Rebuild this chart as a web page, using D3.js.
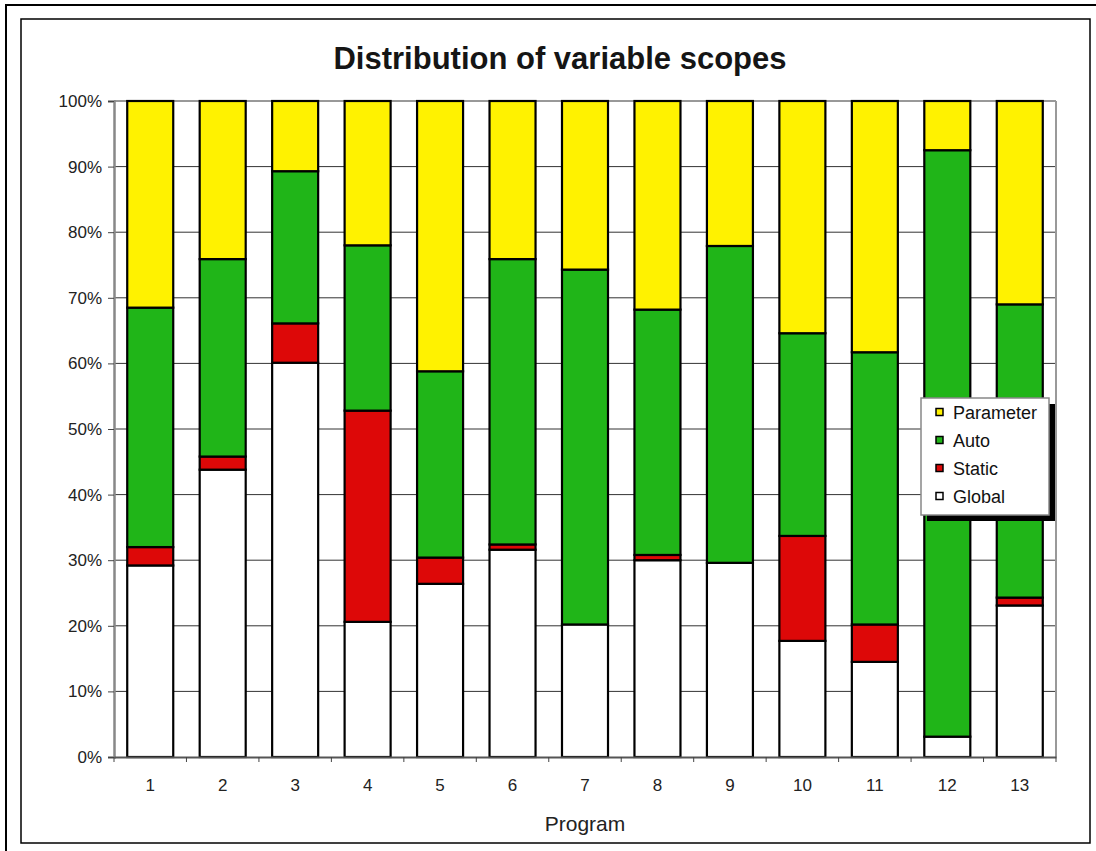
<!DOCTYPE html>
<html>
<head>
<meta charset="utf-8">
<script src="https://cdn.jsdelivr.net/npm/d3@7"></script>
<style>
  html, body { margin: 0; padding: 0; background: #fff; }
  svg { display: block; font-family: "Liberation Sans", Arial, sans-serif; }
</style>
</head>
<body>
<svg id="chart" width="1096" height="851"></svg>
<script>
// Programs on the x axis
const programs = ["1","2","3","4","5","6","7","8","9","10","11","12","13"];
// Share of variables per scope, in percent (stacked bottom to top: Global, Static, Auto, Parameter)
const globalShare    = [29.2, 43.8, 60.1, 20.6, 26.4, 31.6, 20.2, 30.0, 29.6, 17.7, 14.5,  3.1, 23.1];
const staticShare    = [ 2.8,  2.0,  6.0, 32.2,  4.0,  0.8,  0.0,  0.8,  0.0, 16.0,  5.7,  0.0,  1.2];
const autoShare      = [36.5, 30.1, 23.2, 25.2, 28.4, 43.5, 54.1, 37.4, 48.3, 30.9, 41.5, 89.4, 44.7];
const parameterShare = [31.5, 24.1, 10.7, 22.0, 41.2, 24.1, 25.7, 31.8, 22.1, 35.4, 38.3,  7.5, 31.0];
const seriesNames = ["Global", "Static", "Auto", "Parameter"];
const yTicks = [0, 0.1, 0.2, 0.3, 0.4, 0.5, 0.6, 0.7, 0.8, 0.9, 1.0];

const colors = {
  Global: "#ffffff",
  Static: "#dd0808",
  Auto: "#20b518",
  Parameter: "#fff200"
};

const svg = d3.select("#chart");

// Frames around the chart
svg.append("line").attr("x1", 5).attr("x2", 1096).attr("y1", 5).attr("y2", 5)
  .attr("stroke", "#000").attr("stroke-width", 2);
svg.append("line").attr("x1", 6).attr("x2", 6).attr("y1", 5).attr("y2", 851)
  .attr("stroke", "#000").attr("stroke-width", 2);
svg.append("rect").attr("x", 21).attr("y", 19).attr("width", 1069).attr("height", 824)
  .attr("fill", "none").attr("stroke", "#000").attr("stroke-width", 1.5);

// Title
svg.append("text")
  .attr("x", 560).attr("y", 69)
  .attr("text-anchor", "middle")
  .attr("font-size", 31).attr("font-weight", "bold").attr("fill", "#151515")
  .text("Distribution of variable scopes");

const plot = { left: 114, right: 1056, top: 101, bottom: 757 };

const x = d3.scaleBand()
  .domain(programs)
  .range([plot.left, plot.right])
  .paddingInner(0.365)
  .paddingOuter(0.1825);

const y = d3.scaleLinear().domain([0, 1]).range([plot.bottom, plot.top]);

// Gridlines
svg.append("g").selectAll("line").data(yTicks.slice(1)).join("line")
  .attr("x1", plot.left).attr("x2", plot.right)
  .attr("y1", d => y(d)).attr("y2", d => y(d))
  .attr("stroke", "#333").attr("stroke-width", 1);

// Right edge of the plot area
svg.append("line").attr("x1", plot.right).attr("x2", plot.right)
  .attr("y1", plot.top).attr("y2", plot.bottom)
  .attr("stroke", "#999").attr("stroke-width", 2);

// Stacked bars
const rows = programs.map((p, i) => ({
  program: p,
  Global: globalShare[i] / 100,
  Static: staticShare[i] / 100,
  Auto: autoShare[i] / 100,
  Parameter: parameterShare[i] / 100
}));
const stack = d3.stack().keys(seriesNames).offset(d3.stackOffsetExpand);
const layers = stack(rows);

svg.append("g").selectAll("g").data(layers).join("g")
  .attr("fill", d => colors[d.key])
  .selectAll("rect").data(d => d).join("rect")
  .attr("x", d => x(d.data.program))
  .attr("width", x.bandwidth())
  .attr("y", d => y(d[1]))
  .attr("height", d => y(d[0]) - y(d[1]))
  .attr("stroke", "#000").attr("stroke-width", 2.2);

// Y axis
const yAxis = svg.append("g")
  .attr("transform", `translate(${plot.left},0)`)
  .call(d3.axisLeft(y).tickValues(yTicks).tickFormat(d3.format(".0%")).tickSize(6).tickPadding(6));
yAxis.select(".domain").attr("stroke", "#888").attr("stroke-width", 2.5);
yAxis.selectAll(".tick line").attr("stroke", "#444");
yAxis.selectAll(".tick text").attr("font-size", 17).attr("fill", "#222")
  .attr("font-family", "Liberation Sans, Arial, sans-serif");

// X axis with ticks at category boundaries
const xAxis = svg.append("g")
  .attr("transform", `translate(0,${plot.bottom})`)
  .call(d3.axisBottom(x).tickSize(0).tickPadding(22));
xAxis.select(".domain").attr("stroke", "#555").attr("stroke-width", 2);
xAxis.selectAll(".tick text").attr("font-size", 17).attr("fill", "#222")
  .attr("font-family", "Liberation Sans, Arial, sans-serif");
const boundaries = programs.map(p => x(p) - x.step() * x.paddingInner() / 2)
  .concat([plot.right]);
xAxis.append("g").selectAll("line").data(boundaries).join("line")
  .attr("x1", d => d).attr("x2", d => d)
  .attr("y1", 0).attr("y2", 5)
  .attr("stroke", "#444").attr("stroke-width", 1);

// X axis title
svg.append("text")
  .attr("x", (plot.left + plot.right) / 2).attr("y", 831)
  .attr("text-anchor", "middle")
  .attr("font-size", 21).attr("fill", "#222")
  .text("Program");

// Legend with drop shadow
const legend = svg.append("g").attr("transform", "translate(921,398)");
legend.append("rect").attr("x", 6).attr("y", 6).attr("width", 128).attr("height", 117)
  .attr("fill", "#000");
legend.append("rect").attr("x", 0).attr("y", 0).attr("width", 128).attr("height", 117)
  .attr("fill", "#fff").attr("stroke", "#888").attr("stroke-width", 1.5);
const legendOrder = ["Parameter", "Auto", "Static", "Global"];
const items = legend.selectAll("g.item").data(legendOrder).join("g")
  .attr("class", "item")
  .attr("transform", (d, i) => `translate(0,${14 + i * 28})`);
items.append("rect")
  .attr("x", 15).attr("y", -3.5).attr("width", 7).attr("height", 7)
  .attr("fill", d => colors[d]).attr("stroke", "#000").attr("stroke-width", 1.5);
items.append("text")
  .attr("x", 32).attr("y", 6.5)
  .attr("font-size", 18).attr("fill", "#111")
  .text(d => d);
</script>
</body>
</html>
